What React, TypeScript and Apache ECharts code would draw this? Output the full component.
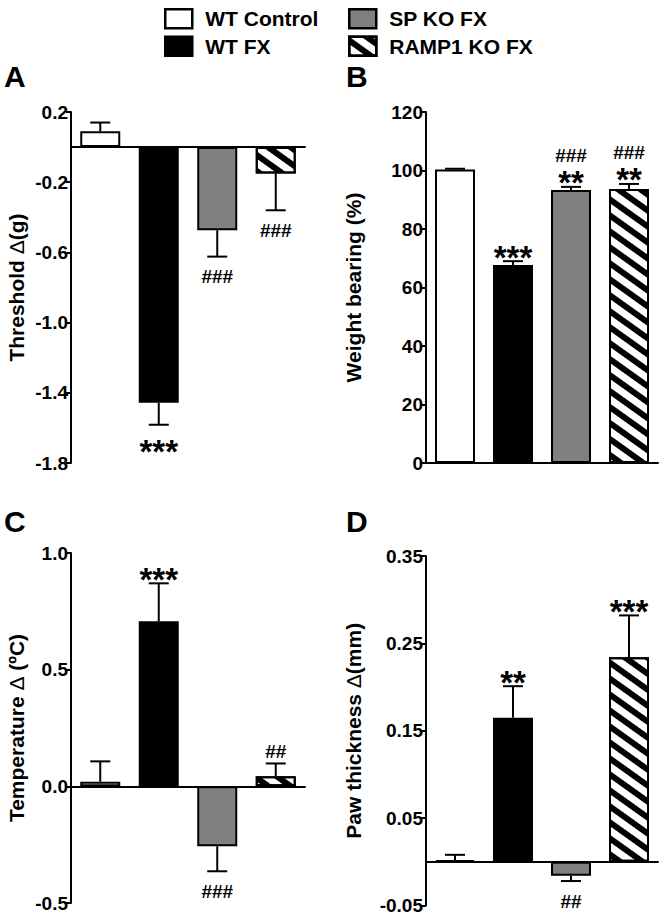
import React, { useEffect, useRef } from 'react';
import * as echarts from 'echarts';

const groups = ['WT Control', 'WT FX', 'SP KO FX', 'RAMP1 KO FX'];

// Panel A: Threshold Δ(g)
const thresholdMean = [0.09, -1.457, -0.474, -0.15];
const thresholdSem = [0.05, 0.125, 0.15, 0.21];
const thresholdStars = ['', '***', '', ''];
const thresholdHashes = ['', '', '###', '###'];

// Panel B: Weight bearing (%)
const weightMean = [100.3, 67.7, 93.3, 93.7];
const weightSem = [0.3, 1.3, 1.1, 1.7];
const weightStars = ['', '***', '**', '**'];
const weightHashes = ['', '', '###', '###'];

// Panel C: Temperature Δ (ºC)
const tempMean = [0.02, 0.707, -0.257, 0.043];
const tempSem = [0.087, 0.163, 0.107, 0.055];
const tempStars = ['', '***', '', ''];
const tempHashes = ['', '', '###', '##'];

// Panel D: Paw thickness Δ(mm)
const pawMean = [0.002, 0.165, -0.016, 0.234];
const pawSem = [0.006, 0.036, 0.006, 0.048];
const pawStars = ['', '**', '', '***'];
const pawHashes = ['', '', '##', ''];

const FONT = "'Liberation Sans', Arial, Helvetica, sans-serif";

const panels = [
  {
    letter: 'A', means: thresholdMean, sems: thresholdSem, stars: thresholdStars, hashes: thresholdHashes,
    min: -1.8, max: 0.2, interval: 0.4, decimals: 1, name: 'Threshold {d|Δ}(g)',
    grid: { left: 71, top: 112, width: 234, height: 351 }, nameGap: 44, letterPos: [4, 61],
  },
  {
    letter: 'B', means: weightMean, sems: weightSem, stars: weightStars, hashes: weightHashes,
    min: 0, max: 120, interval: 20, decimals: 0, name: 'Weight bearing (%)',
    grid: { left: 426, top: 112, width: 232, height: 351 }, nameGap: 62, letterPos: [346, 61],
  },
  {
    letter: 'C', means: tempMean, sems: tempSem, stars: tempStars, hashes: tempHashes,
    min: -0.5, max: 1.0, interval: 0.5, decimals: 1, name: 'Temperature {d|Δ} (ºC)',
    grid: { left: 71, top: 553, width: 234, height: 350 }, nameGap: 44, letterPos: [4, 506],
  },
  {
    letter: 'D', means: pawMean, sems: pawSem, stars: pawStars, hashes: pawHashes,
    min: -0.05, max: 0.35, interval: 0.1, decimals: 2, name: 'Paw thickness {d|Δ}(mm)',
    grid: { left: 426, top: 556, width: 232, height: 350 }, nameGap: 62, letterPos: [346, 506],
  },
];

const barStyles: any[] = [
  { color: '#ffffff', borderColor: '#000', borderWidth: 2 },
  { color: '#000000', borderColor: '#000', borderWidth: 2 },
  { color: '#808080', borderColor: '#000', borderWidth: 2 },
  {
    color: '#ffffff', borderColor: '#000', borderWidth: 2,
    decal: {
      symbol: 'rect', symbolSize: 1, dashArrayX: [1, 0], dashArrayY: [6, 7],
      rotation: 0.62, color: '#000',
    },
  },
];

function App() {
  const ref = useRef<HTMLDivElement>(null);
  useEffect(() => {
    if (!ref.current) return;
    const chart = echarts.init(ref.current, null, { renderer: 'svg' });

    const grids: any[] = [];
    const xAxes: any[] = [];
    const yAxes: any[] = [];
    const series: any[] = [];
    const graphics: any[] = [];

    panels.forEach((p, pi) => {
      grids.push({ ...p.grid, containLabel: false });
      xAxes.push({
        type: 'category', gridIndex: pi, data: groups,
        axisLine: { onZero: true, lineStyle: { color: '#000', width: 2 } },
        axisTick: { show: false }, axisLabel: { show: false }, splitLine: { show: false },
      });
      yAxes.push({
        type: 'value', gridIndex: pi, min: p.min, max: p.max, interval: p.interval,
        name: p.name, nameLocation: 'middle', nameGap: p.nameGap, nameRotate: 90,
        nameTextStyle: {
          fontFamily: FONT, fontSize: 21, fontWeight: 'bold', color: '#000',
          rich: { d: { fontFamily: FONT, fontSize: 21, fontWeight: 'normal', color: '#000' } },
        },
        axisLine: { show: true, lineStyle: { color: '#000', width: 2 } },
        axisTick: { show: true, length: 5, lineStyle: { color: '#000', width: 2 } },
        axisLabel: {
          fontFamily: FONT, fontSize: 19, fontWeight: 'bold', color: '#000', margin: 3,
          formatter: (v: number) => v.toFixed(p.decimals),
        },
        splitLine: { show: false },
      });
      groups.forEach((g, gi) => {
        series.push({
          type: 'bar', name: g, xAxisIndex: pi, yAxisIndex: pi, stack: 'panel' + pi,
          barWidth: 40, itemStyle: barStyles[gi],
          data: p.means.map((v, i) => (i === gi ? v : '-')),
        });
      });
      series.push({
        type: 'custom', xAxisIndex: pi, yAxisIndex: pi, silent: true, z: 10,
        data: p.means.map((m, i) => [i, m, p.sems[i]]),
        renderItem: (params: any, api: any) => {
          const i = params.dataIndex;
          const m = p.means[i];
          const s = p.sems[i];
          const dir = m >= 0 ? 1 : -1;
          const end = m + dir * s;
          const a = api.coord([i, m]);
          const e = api.coord([i, end]);
          const children: any[] = [
            { type: 'line', shape: { x1: a[0], y1: a[1], x2: e[0], y2: e[1] }, style: { stroke: '#000', lineWidth: 2 } },
            { type: 'line', shape: { x1: e[0] - 10, y1: e[1], x2: e[0] + 10, y2: e[1] }, style: { stroke: '#000', lineWidth: 2 } },
          ];
          const star = p.stars[i];
          const hash = p.hashes[i];
          const starText = (y: number) => ({
            type: 'text', x: e[0], y,
            style: { text: star, font: `bold 33px ${FONT}`, fill: '#000', align: 'center', verticalAlign: 'middle' },
          });
          const hashText = (y: number) => ({
            type: 'text', x: e[0], y,
            style: { text: hash, font: `bold 19px ${FONT}`, fill: '#000', align: 'center', verticalAlign: 'middle' },
          });
          if (dir > 0) {
            if (star) children.push(starText(e[1] - 4));
            if (hash) children.push(hashText(e[1] - (star ? 31 : 12)));
          } else {
            if (star) children.push(starText(e[1] + 27));
            if (hash) children.push(hashText(e[1] + 20));
          }
          return { type: 'group', children };
        },
      });
      graphics.push({
        type: 'text', left: p.letterPos[0], top: p.letterPos[1],
        style: { text: p.letter, font: `bold 30px ${FONT}`, fill: '#000' },
      });
    });

    const legendBase = {
      orient: 'vertical', top: 3, itemWidth: 27, itemHeight: 19, itemGap: 6,
      icon: 'rect', selectedMode: false,
      itemStyle: { borderWidth: 2.5 },
      textStyle: { fontFamily: FONT, fontSize: 21, fontWeight: 'bold', color: '#000', padding: [0, 0, 0, 8] },
    };

    chart.setOption({
      animation: false,
      backgroundColor: '#fff',
      grid: grids,
      xAxis: xAxes,
      yAxis: yAxes,
      series,
      graphic: graphics,
      legend: [
        { ...legendBase, left: 159, data: [groups[0], groups[1]] },
        { ...legendBase, left: 343, data: [groups[2], groups[3]] },
      ],
    });
    return () => chart.dispose();
  }, []);
  return <div ref={ref} style={{ position: 'absolute', left: 0, top: 0, width: 662, height: 915 }} />;
}

export default App;
